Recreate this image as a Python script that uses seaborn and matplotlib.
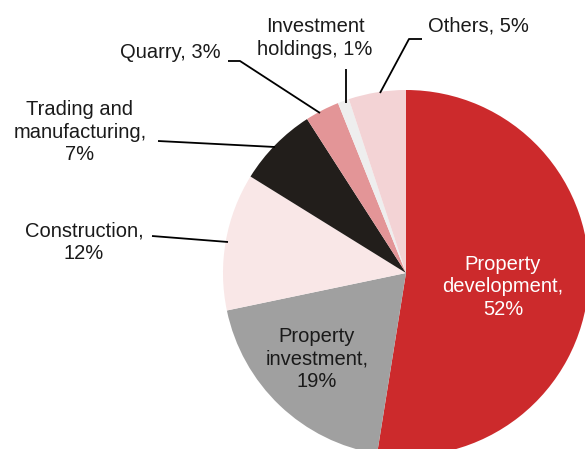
import matplotlib
matplotlib.use("Agg")
import matplotlib.pyplot as plt
import seaborn as sns

# --- data ---
segments = ["Property development", "Property investment", "Construction",
            "Trading and manufacturing", "Quarry", "Investment holdings", "Others"]
shares = [52, 19, 12, 7, 3, 1, 5]
labels = ["Property\ndevelopment,\n52%", "Property\ninvestment,\n19%", "Construction,\n12%",
          "Trading and\nmanufacturing,\n7%", "Quarry, 3%", "Investment\nholdings, 1%", "Others, 5%"]
colors = ["#CC2A2C", "#A0A0A0", "#F9E7E7", "#221E1B", "#E39597", "#EEEEEE", "#F3D3D5"]

sns.set_theme(style="white")
plt.rcParams['font.family'] = ['Liberation Sans', 'DejaVu Sans']

W, H = 585, 449
fig = plt.figure(figsize=(W / 100, H / 100), dpi=100)
ax = fig.add_axes([0, 0, 1, 1])

# pie centre / radius in pixel space (y measured from top)
cx, cy, r = 406, 273, 183
ax.pie(shares, colors=colors, startangle=90, counterclock=False,
       center=(cx, H - cy), radius=r, wedgeprops=dict(linewidth=0))
ax.set_xlim(0, W)
ax.set_ylim(0, H)
ax.set_aspect("auto")
ax.axis("off")

fs = 14.5

def txt(x, y, s, color="#1a1a1a"):
    ax.text(x, H - y, s, ha="center", va="center", fontsize=fs, color=color,
            linespacing=1.25)

def line(pts):
    ax.plot([p[0] for p in pts], [H - p[1] for p in pts], color="black", lw=1.3,
            solid_capstyle="butt")

# labels inside
txt(503, 287, labels[0], color="white")
txt(317, 359, labels[1])
# labels outside
txt(84, 242, labels[2])
txt(80, 132, labels[3])
txt(170, 52, labels[4])
txt(315, 38, labels[5])
txt(478, 26, labels[6])

# leader lines
line([(152, 236), (228, 242)])
line([(158, 141), (275, 147)])
line([(228, 61), (240, 61), (320, 113)])
line([(346, 69), (346, 103)])
line([(422, 39), (409, 39), (380, 93)])

fig.savefig("out.png", dpi=100)
